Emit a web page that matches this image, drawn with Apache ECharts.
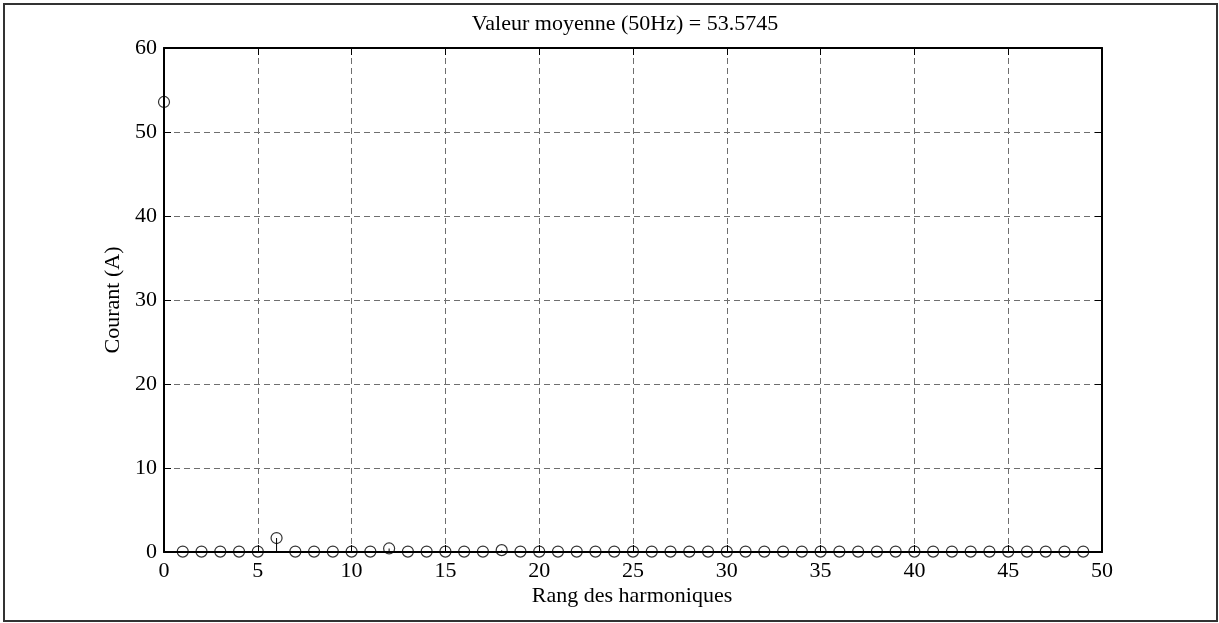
<!DOCTYPE html>
<html>
<head>
<meta charset="utf-8">
<script src="https://cdn.jsdelivr.net/npm/echarts@6/dist/echarts.min.js"></script>
<style>
  html, body { margin: 0; padding: 0; background: #fff; }
  #chart { width: 1219px; height: 623px; }
</style>
</head>
<body>
<div id="chart"></div>
<script>
// Harmonic ranks 0..49 and the current amplitude of each (A)
const ranks = [0,1,2,3,4,5,6,7,8,9,10,11,12,13,14,15,16,17,18,19,20,21,22,23,24,
               25,26,27,28,29,30,31,32,33,34,35,36,37,38,39,40,41,42,43,44,45,46,47,48,49];
const amplitudes = [53.5745,0.05,0.05,0.05,0.05,0.05,1.66,0.05,0.05,0.05,0.05,0.05,0.42,0.05,0.05,
                    0.05,0.05,0.05,0.22,0.05,0.05,0.05,0.05,0.05,0.05,0.05,0.05,0.05,0.05,0.05,
                    0.05,0.05,0.05,0.05,0.05,0.05,0.05,0.05,0.05,0.05,0.05,0.05,0.05,0.05,0.05,
                    0.05,0.05,0.05,0.05,0.05];
const xTicks = { min: 0, max: 50, interval: 5 };
const yTicks = { min: 0, max: 60, interval: 10 };
const titleText = 'Valeur moyenne (50Hz) = 53.5745';
const xLabelText = 'Rang des harmoniques';
const yLabelText = 'Courant (A)';

const points = ranks.map((r, i) => [r, amplitudes[i]]);
const FONT = '"Liberation Serif", "Times New Roman", serif';

const chart = echarts.init(document.getElementById('chart'), null, { renderer: 'canvas' });

const gridLine = { show: true, lineStyle: { color: '#6e6e6e', width: 1, type: [6, 4] } };
const axisLine = { show: true, onZero: false, lineStyle: { color: '#000', width: 2 } };
const tickIn = { show: true, inside: true, length: 7, lineStyle: { color: '#000', width: 1 } };

chart.setOption({
  animation: false,
  backgroundColor: '#fff',
  grid: { left: 164, right: 117, top: 48, bottom: 71, outerBoundsMode: 'none' },
  xAxis: [
    {
      type: 'value', position: 'bottom', ...xTicks,
      axisLine, axisTick: tickIn, splitLine: gridLine,
      axisLabel: { color: '#000', fontFamily: FONT, fontSize: 22, margin: 8 }
    },
    {
      type: 'value', position: 'top', ...xTicks,
      axisLine, axisTick: tickIn, splitLine: { show: false },
      axisLabel: { show: false }
    }
  ],
  yAxis: [
    {
      type: 'value', position: 'left', ...yTicks,
      axisLine, axisTick: tickIn, splitLine: gridLine,
      axisLabel: { color: '#000', fontFamily: FONT, fontSize: 22, margin: 7 }
    },
    {
      type: 'value', position: 'right', ...yTicks,
      axisLine, axisTick: tickIn, splitLine: { show: false },
      axisLabel: { show: false }
    }
  ],
  series: [
    {
      // stems
      type: 'bar',
      data: points,
      barWidth: 1,
      itemStyle: { color: '#000' },
      silent: true,
      z: 3
    },
    {
      // open circle markers
      type: 'scatter',
      data: points,
      symbol: 'circle',
      symbolSize: 11,
      itemStyle: { color: 'rgba(0,0,0,0)', borderColor: '#000', borderWidth: 1.2 },
      silent: true,
      z: 4
    }
  ],
  graphic: [
    {
      type: 'rect',
      shape: { x: 4, y: 4, width: 1213, height: 617 },
      style: { fill: null, stroke: '#333', lineWidth: 2 },
      silent: true
    },
    {
      type: 'text', x: 625, y: 24,
      style: { text: titleText, fill: '#000', font: '22px ' + FONT, align: 'center', verticalAlign: 'middle' }
    },
    {
      type: 'text', x: 632, y: 596,
      style: { text: xLabelText, fill: '#000', font: '22px ' + FONT, align: 'center', verticalAlign: 'middle' }
    },
    {
      type: 'text', x: 113, y: 300, rotation: Math.PI / 2,
      style: { text: yLabelText, fill: '#000', font: '22px ' + FONT, align: 'center', verticalAlign: 'middle' }
    }
  ]
});
</script>
</body>
</html>
